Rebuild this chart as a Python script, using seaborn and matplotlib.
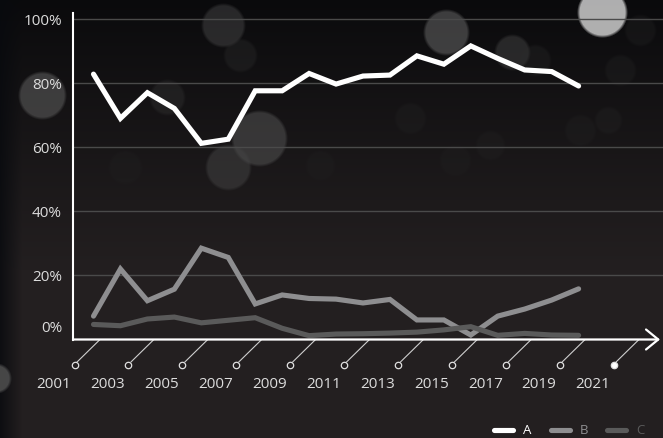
import numpy as np
import pandas as pd
import matplotlib
matplotlib.use("Agg")
import matplotlib.pyplot as plt
import matplotlib.transforms as mtrans
from matplotlib.lines import Line2D
import seaborn as sns

# ---------------- data ----------------
years = list(range(2001, 2020))
series_a = [82.8, 69.0, 77.0, 72.1, 61.2, 62.5, 77.6, 77.6, 83.0, 79.7,
            82.2, 82.5, 88.5, 85.9, 91.6, 87.7, 84.1, 83.6, 79.1]
series_b = [7.3, 22.0, 12.1, 15.7, 28.5, 25.6, 11.1, 13.9, 12.8, 12.6,
            11.4, 12.5, 6.1, 6.1, 1.4, 7.3, 9.5, 12.3, 15.8]
series_c = [4.7, 4.3, 6.4, 7.0, 5.2, 6.0, 6.8, 3.5, 1.2, 1.7,
            1.8, 2.0, 2.3, 3.0, 4.0, 1.3, 1.9, 1.4, 1.3]
series_names = ["A", "B", "C"]
series_colors = ["#ffffff", "#8e8e90", "#5a5a5a"]
tick_years = list(range(2001, 2022, 2))
y_ticks = [0, 20, 40, 60, 80, 100]
y_tick_labels = ["0%", "20%", "40%", "60%", "80%", "100%"]

df = pd.DataFrame({
    "year": years * 3,
    "value": series_a + series_b + series_c,
    "series": ["A"] * len(years) + ["B"] * len(years) + ["C"] * len(years),
})
palette = dict(zip(series_names, series_colors))

# ---------------- style ----------------
sns.set_theme(style="dark")
plt.rcParams["font.family"] = ["Open Sans", "DejaVu Sans"]

W, H = 663, 438
fig = plt.figure(figsize=(W / 100, H / 100), dpi=100)
fig.patch.set_facecolor("#211e1f")

# ---------------- background (gradient + bokeh), rendered as one image ----------------
bg = fig.add_axes([0, 0, 1, 1], zorder=-10)
gy, gx = np.mgrid[0:H, 0:W].astype(float)
t = np.clip(gy / 270.0, 0, 1) ** 0.9
top = np.array([10, 10, 12]) / 255.0
bot = np.array([35, 31, 32]) / 255.0
rgb = top[None, None, :] * (1 - t[..., None]) + bot[None, None, :] * t[..., None]
# darker bluish left strip
ls = np.clip(1 - gx / 22.0, 0, 1)[..., None] * 0.8
rgb = rgb * (1 - ls) + np.array([8, 10, 14])[None, None, :] / 255.0 * ls

bokeh = [
    (223, 25, 21, 0.42, 0.30),
    (602, 12, 24, 0.80, 0.85),
    (446, 32, 22, 0.40, 0.55),
    (42, 95, 23, 0.33, 0.65),
    (259, 138, 27, 0.32, 0.55),
    (228, 167, 22, 0.27, 0.50),
    (512, 52, 17, 0.26, 0.50),
    (167, 97, 17, 0.20, 0.40),
    (240, 55, 16, 0.18, 0.35),
    (535, 60, 15, 0.17, 0.30),
    (640, 30, 15, 0.15, 0.30),
    (620, 70, 15, 0.15, 0.30),
    (608, 120, 13, 0.15, 0.30),
    (410, 118, 15, 0.14, 0.30),
    (490, 145, 14, 0.14, 0.30),
    (580, 130, 15, 0.14, 0.30),
    (455, 160, 15, 0.13, 0.30),
    (320, 165, 14, 0.13, 0.30),
    (125, 167, 16, 0.13, 0.30),
    (-4, 378, 14, 0.30, 0.90),
]
for cx, cy, r, lev, a in bokeh:
    d = np.sqrt((gx - cx) ** 2 + (gy - cy) ** 2)
    m = np.clip((r - d) / 3.0 + 0.5, 0, 1) * a
    rgb = rgb * (1 - m[..., None]) + lev * m[..., None]

bg.imshow(np.clip(rgb, 0, 1), extent=[0, W, H, 0], aspect="auto",
          interpolation="bilinear")
bg.set_xlim(0, W)
bg.set_ylim(H, 0)
bg.axis("off")

# ---------------- main axes ----------------
px_per_year = 26.95
x0_px = 93.5          # pixel of first data year
ax_left, ax_right = 73, 663
ax_bottom, ax_top = 339.5, 13
px_per_pct = 3.205

ax = fig.add_axes([ax_left / W, (H - ax_bottom) / H,
                   (ax_right - ax_left) / W, (ax_bottom - ax_top) / H])
ax.patch.set_alpha(0)
ax.set_xlim(years[0] - (x0_px - ax_left) / px_per_year,
            years[0] + (ax_right - x0_px) / px_per_year)
ax.set_ylim(0, (ax_bottom - ax_top) / px_per_pct)

sns.lineplot(data=df, x="year", y="value", hue="series", palette=palette,
             hue_order=series_names, linewidth=3.7, legend=False, ax=ax,
             zorder=3)
for ln in ax.lines:
    ln.set_solid_capstyle("round")
    ln.set_solid_joinstyle("miter")

# grid
ax.grid(False)
for v in y_ticks[1:]:
    ax.axhline(v, color="#4a4a4a", lw=1.0, zorder=1)

# spines
for s in ["top", "right", "bottom"]:
    ax.spines[s].set_visible(False)
ax.spines["left"].set_color("white")
ax.spines["left"].set_linewidth(1.5)
ax.spines["left"].set_zorder(4)

# x axis line with arrow
ax.annotate("", xy=((660 - ax_left) / (ax_right - ax_left), 0), xycoords="axes fraction",
            xytext=(0, 0), textcoords="axes fraction",
            arrowprops=dict(arrowstyle="->,head_length=0.55,head_width=0.45",
                            color="white", lw=1.6, shrinkA=0, shrinkB=0,
                            mutation_scale=16),
            annotation_clip=False, zorder=5)

# y ticks
ax.set_yticks(y_ticks)
ax.set_yticklabels(y_tick_labels)
ax.tick_params(axis="y", length=0, pad=(ax_left - 62) * 0.72,
               labelsize=11, labelcolor="#dcdcdc")
for lab in ax.get_yticklabels():
    if lab.get_text() == "0%":
        lab.set_transform(lab.get_transform() +
                          mtrans.ScaledTranslation(0, 0.125, fig.dpi_scale_trans))

# x ticks (custom diagonal decorations)
ax.set_xticks([])
tick_shift = (100 - x0_px) / px_per_year
for i, yr in enumerate(tick_years):
    xc = yr + tick_shift
    ax.annotate("", xy=(xc, 0), xycoords="data", xytext=(-25.5, -25),
                textcoords="offset pixels",
                arrowprops=dict(arrowstyle="-", color="#cfcfcf", lw=0.8,
                                shrinkA=2.5, shrinkB=0),
                annotation_clip=False)
    tr = mtrans.offset_copy(ax.transData, fig=fig, x=-25.5, y=-25, units="dots")
    last = i == len(tick_years) - 1
    ax.plot([xc], [0], marker="o", ms=4.6, mew=0.9, mec="#e0e0e0",
            mfc="#ffffff" if last else "#231f20", transform=tr,
            clip_on=False, zorder=6)
    ax.annotate(str(yr), xy=(xc, 0), xycoords="data", xytext=(-46, -44.5),
                textcoords="offset pixels", ha="center", va="center",
                fontsize=11, color="#dcdcdc", annotation_clip=False)

ax.set_xlabel("")
ax.set_ylabel("")

# legend
handles = [Line2D([0], [0], color=c, lw=3.7, solid_capstyle="round")
           for c in series_colors]
leg = fig.legend(handles, series_names, ncol=3, loc="center left",
                 bbox_to_anchor=(494 / W, (H - 431) / H), frameon=False,
                 fontsize=9.5, handlelength=1.45, handletextpad=0.75,
                 columnspacing=1.45, borderpad=0, borderaxespad=0)
for txt, c in zip(leg.get_texts(), series_colors):
    txt.set_color(c)

fig.savefig("out.png", dpi=100, facecolor=fig.get_facecolor())
